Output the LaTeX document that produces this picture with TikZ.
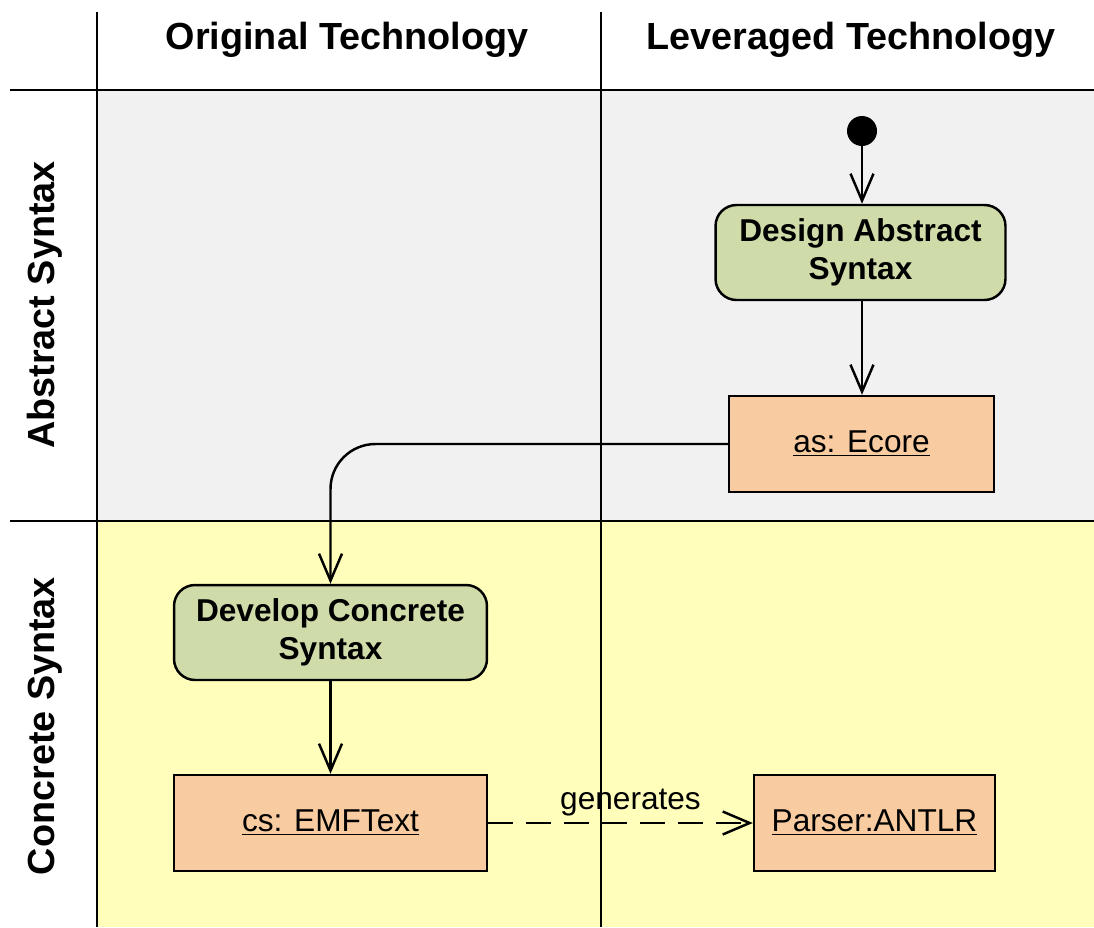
\documentclass[tikz,border=0pt]{standalone}
\usepackage{fontspec}
\setmainfont{Liberation Sans}
\usepackage{xcolor}
\usepackage{tikz}
\usetikzlibrary{shapes.geometric, arrows.meta, positioning}
\definecolor{laneA}{RGB}{241, 241, 241}
\definecolor{laneC}{RGB}{255, 255, 187}
\definecolor{actfill}{RGB}{207, 220, 170}
\definecolor{objfill}{RGB}{248, 203, 160}

\begin{document}
\begin{tikzpicture}[
    x=0.02cm, y=-0.02cm,
    lane/.style={line width=1.3pt},
    head/.style={font=\fontsize{21.5}{24}\selectfont\bfseries},
    activity/.style={rectangle, draw, line width=1.4pt, rounded corners=0.42cm, fill=actfill, minimum width=5.8cm, minimum height=1.9cm, align=center, font=\fontsize{18}{21.5}\selectfont\bfseries},
    object/.style={rectangle, draw, line width=1.4pt, fill=objfill, minimum height=1.92cm, align=center, font=\fontsize{18}{21}\selectfont},
    arrow/.style={-{Straight Barb[length=5.4mm, width=4.6mm]}, line width=1.4pt}
]
    \useasboundingbox (0,0) rectangle (1094,927);
    % swimlane backgrounds
    \fill[laneA] (97,90) rectangle (1094,521);
    \fill[laneC] (97,521) rectangle (1094,927);
    \draw[lane] (10,90) -- (1094,90);
    \draw[lane] (10,521) -- (1094,521);
    \draw[lane] (97,12) -- (97,927);
    \draw[lane] (601,12) -- (601,927);

    \node[head] (orig) at (347,40) {Original Technology};
    \node[head] (lev) at (851,40) {Leveraged Technology};
    \node[head, rotate=90] (abs) at (45,305) {Abstract Syntax};
    \node[head, rotate=90] (conc) at (45,726) {Concrete Syntax};

    \node[circle, fill=black, minimum size=0.6cm, inner sep=0pt] (start) at (862,131) {};
    \node[activity] (design) at (860.5,252.5) {Design Abstract\\Syntax};
    \node[object, minimum width=5.3cm] (ecore) at (861.5,444) {\underline{as: Ecore}};
    \node[activity, minimum width=6.26cm] (develop) at (330.5,632.5) {Develop Concrete\\Syntax};
    \node[object, minimum width=6.26cm] (emf) at (330.5,823) {\underline{cs: EMFText}};
    \node[object, minimum width=4.82cm] (parser) at (874.5,823) {\underline{Parser:ANTLR}};

    \draw[arrow] (start) -- (start |- design.north);
    \draw[arrow] (design.south -| start) -- (start |- ecore.north);
    \draw[arrow, rounded corners=0.9cm] (ecore.west) -| (develop.north);
    \draw[arrow] (develop) -- (emf);
    \draw[arrow, dash pattern=on 0.5cm off 0.26cm] (emf) -- node[above, font=\fontsize{18}{21}\selectfont, xshift=0.2cm] {generates} (parser);
\end{tikzpicture}
\end{document}
